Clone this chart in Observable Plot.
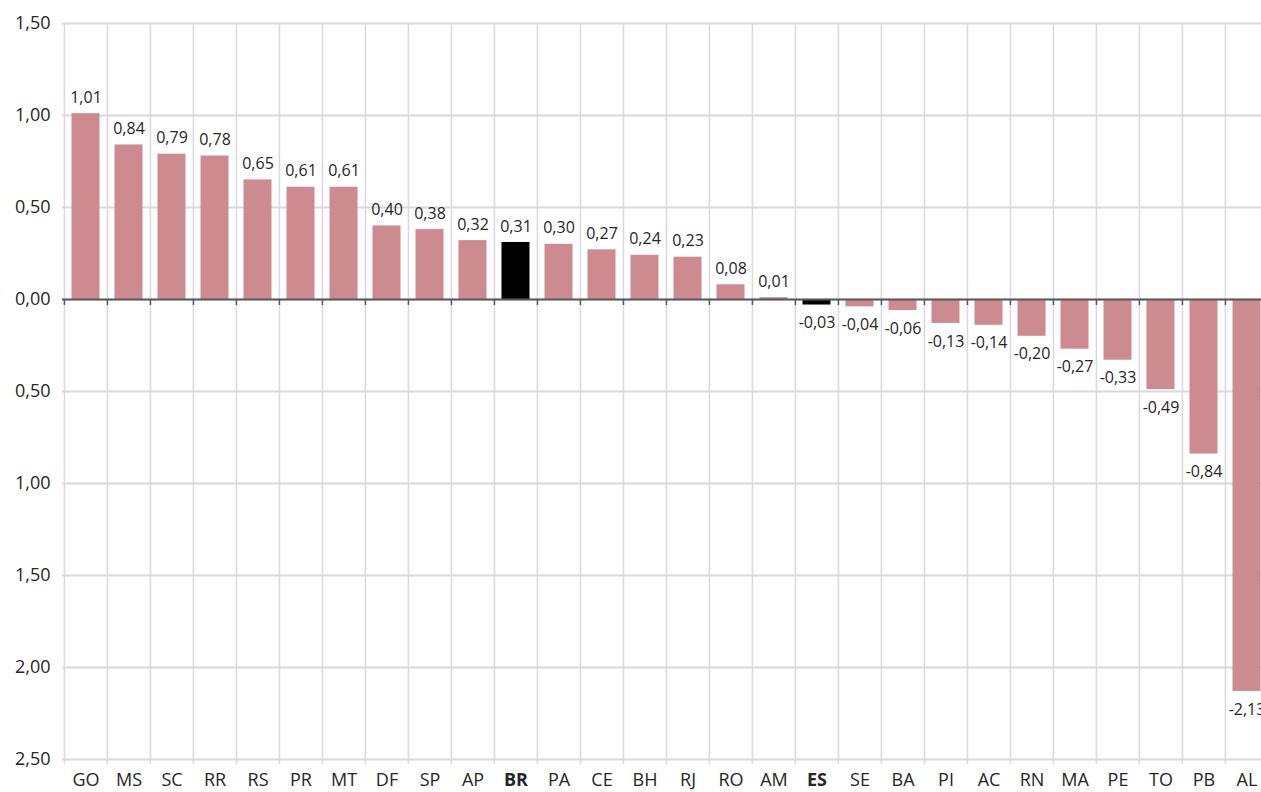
<!DOCTYPE html>
<html>
<head>
<meta charset="utf-8">
<script src="https://cdn.jsdelivr.net/npm/d3@7"></script>
<script src="https://cdn.jsdelivr.net/npm/@observablehq/plot@0.6"></script>
<style>
  html, body { margin: 0; padding: 0; background: #fff; overflow: hidden; }
  #chart svg { display: block; max-width: none !important; }
</style>
</head>
<body>
<div id="chart"></div>
<script>
const categories = ["GO","MS","SC","RR","RS","PR","MT","DF","SP","AP","BR","PA","CE","BH","RJ","RO","AM","ES","SE","BA","PI","AC","RN","MA","PE","TO","PB","AL"];
const values = [1.01,0.84,0.79,0.78,0.65,0.61,0.61,0.40,0.38,0.32,0.31,0.30,0.27,0.24,0.23,0.08,0.01,-0.03,-0.04,-0.06,-0.13,-0.14,-0.20,-0.27,-0.33,-0.49,-0.84,-2.13];
const highlighted = ["BR","ES"];
const yTicks = [1.5,1.0,0.5,0,-0.5,-1.0,-1.5,-2.0,-2.5];

const data = categories.map((c, i) => ({cat: c, value: values[i], hi: highlighted.includes(c)}));

const W = 1270, H = 792, mL = 62, mR = 0, mT = 23, mB = 33;
const bw = (W - mL - mR) / categories.length;
const fmt = v => d3.format(".2f")(v).replace(".", ",").replace("\u2212", "-");
const font = "'Open Sans', sans-serif";

const chart = Plot.plot({
  width: W,
  height: H,
  marginLeft: mL,
  marginRight: mR,
  marginTop: mT,
  marginBottom: mB,
  style: {fontFamily: font, background: "#fff", maxWidth: "none"},
  x: {domain: categories, padding: 0, axis: null},
  y: {domain: [-2.5, 1.5], axis: null},
  marks: [
    Plot.gridY(yTicks, {stroke: "#d9d9d9", strokeOpacity: 1, strokeWidth: 2}),
    Plot.ruleX(categories, {x: d => d, dx: -bw / 2, y1: 1.5, y2: -2.5, insetBottom: -5, stroke: "#d9d9d9", strokeWidth: 1.5}),
    Plot.barY(data, {x: "cat", y: "value", fill: d => d.hi ? "#000000" : "#cd8b8f", insetLeft: 7.5, insetRight: 7.5}),
    Plot.ruleY([0], {stroke: "#595959", strokeWidth: 2}),
    Plot.ruleX(categories, {x: d => d, dx: -bw / 2, y1: 0, y2: 0, insetBottom: -6, stroke: "#595959", strokeWidth: 1.5}),
    Plot.text(data.filter(d => d.value >= 0), {x: "cat", y: "value", text: d => fmt(d.value), dy: -16, fill: "#262626", fontSize: 16}),
    Plot.text(data.filter(d => d.value < 0), {x: "cat", y: "value", text: d => fmt(d.value), dy: 18, fill: "#262626", fontSize: 16}),
    Plot.text(data.filter(d => !d.hi), {x: "cat", y: -2.5, text: "cat", dy: 21, fill: "#262626", fontSize: 18}),
    Plot.text(data.filter(d => d.hi), {x: "cat", y: -2.5, text: "cat", dy: 21, fill: "#262626", fontSize: 18, fontWeight: "bold"}),
    Plot.axisY(yTicks, {label: null, tickSize: 0, tickPadding: 12, fontSize: 18, fill: "#262626", tickFormat: v => fmt(Math.abs(v))})
  ]
});
document.getElementById("chart").appendChild(chart);
</script>
</body>
</html>
